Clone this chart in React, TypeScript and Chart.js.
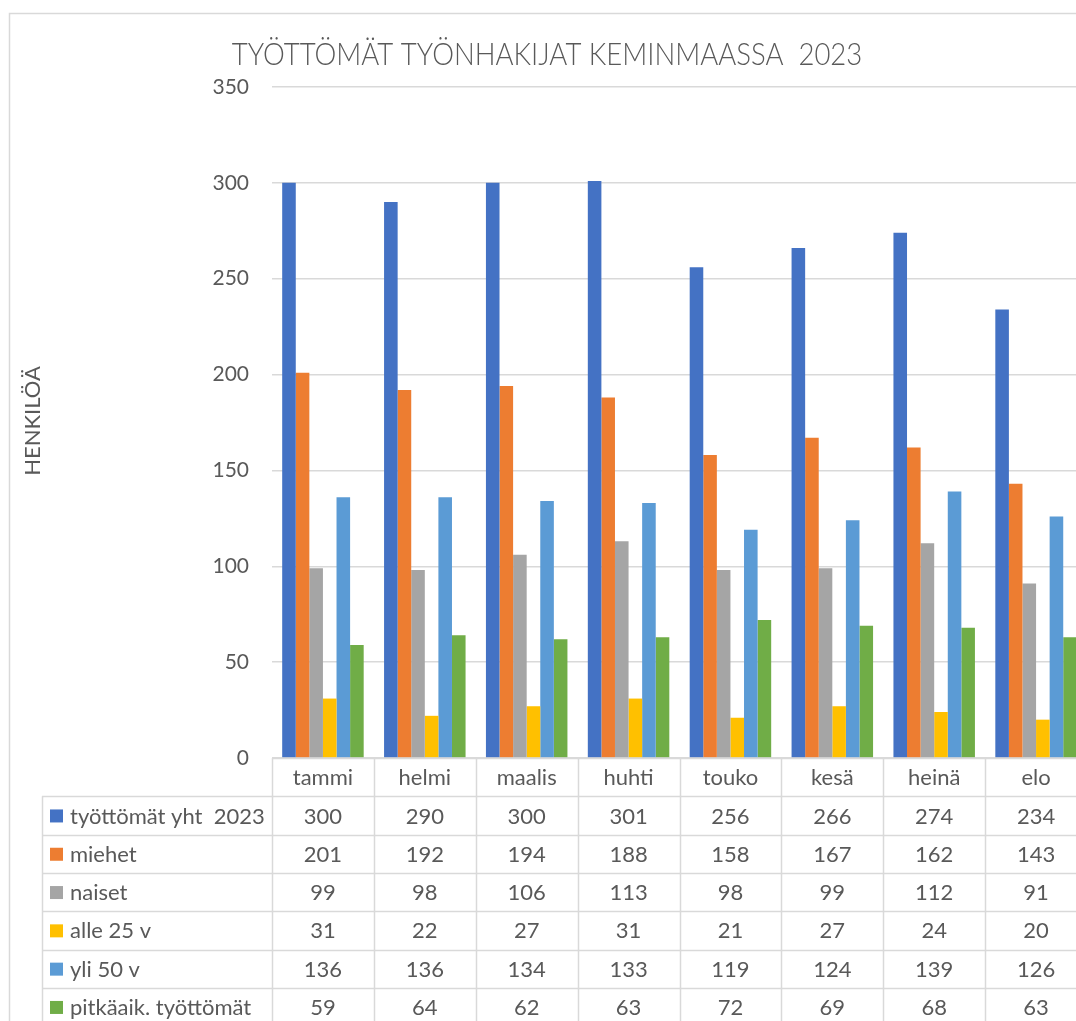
import React, { useEffect, useRef } from "react";
import { Chart, registerables } from "chart.js";

Chart.register(...registerables);

const categories = ["tammi", "helmi", "maalis", "huhti", "touko", "kesä", "heinä", "elo"];
const seriesLabels = [
  "työttömät yht  2023",
  "miehet",
  "naiset",
  "alle 25 v",
  "yli 50 v",
  "pitkäaik. työttömät",
];
const total = [300, 290, 300, 301, 256, 266, 274, 234];
const miehet = [201, 192, 194, 188, 158, 167, 162, 143];
const naiset = [99, 98, 106, 113, 98, 99, 112, 91];
const alle25 = [31, 22, 27, 31, 21, 27, 24, 20];
const yli50 = [136, 136, 134, 133, 119, 124, 139, 126];
const pitka = [59, 64, 62, 63, 72, 69, 68, 63];
const seriesData = [total, miehet, naiset, alle25, yli50, pitka];
const colors = ["#4472C4", "#ED7D31", "#A5A5A5", "#FFC000", "#5B9BD5", "#70AD47"];

const yTicks = [0, 50, 100, 150, 200, 250, 300, 350];

const TITLE = "TYÖTTÖMÄT TYÖNHAKIJAT KEMINMAASSA  2023";
const Y_TITLE = "HENKILÖÄ";

const FONT = "Lato, 'Open Sans', sans-serif";
const TEXT = "#595959";
const LINE = "#D9D9D9";

const tablePlugin = {
  id: "dataTable",
  afterDraw(chart: any) {
    const ctx = chart.ctx as CanvasRenderingContext2D;
    const area = chart.chartArea;
    const xs = chart.scales.x;
    const n = categories.length;
    const catW = (area.right - area.left) / n;
    const rowH = 38.3;
    const top = area.bottom;
    const legendLeft = 42;
    const bottom = chart.height;
    ctx.save();
    // outer border
    ctx.strokeStyle = LINE;
    ctx.lineWidth = 1.5;
    ctx.strokeRect(9.5, 13.5, chart.width + 20, chart.height + 20);

    // title
    ctx.fillStyle = TEXT;
    ctx.textAlign = "center";
    ctx.textBaseline = "middle";
    ctx.font = `300 32px ${FONT}`;
    ctx.save();
    ctx.translate(547, 55);
    ctx.scale(0.86, 1);
    ctx.fillText(TITLE, 0, 0);
    ctx.restore();

    // y title
    ctx.save();
    ctx.translate(33, 421);
    ctx.rotate(-Math.PI / 2);
    ctx.font = `400 22px ${FONT}`;
    ctx.fillText(Y_TITLE, 0, 0);
    ctx.restore();

    // table lines
    ctx.strokeStyle = LINE;
    ctx.lineWidth = 1.5;
    ctx.beginPath();
    for (let i = 0; i <= n; i++) {
      const x = Math.round(area.left + i * catW) + 0.5;
      ctx.moveTo(x, top);
      ctx.lineTo(x, bottom);
    }
    ctx.moveTo(legendLeft + 0.5, top + rowH);
    ctx.lineTo(legendLeft + 0.5, bottom);
    ctx.moveTo(area.left, top + 0.5);
    ctx.lineTo(area.right + 50, top + 0.5);
    for (let r = 1; r <= 7; r++) {
      const y = Math.round(top + r * rowH) + 0.5;
      ctx.moveTo(legendLeft, y);
      ctx.lineTo(area.right + 50, y);
    }
    ctx.stroke();

    // header labels
    ctx.fillStyle = TEXT;
    ctx.font = `400 22px ${FONT}`;
    ctx.textAlign = "center";
    ctx.textBaseline = "middle";
    categories.forEach((c, i) => {
      ctx.fillText(c, xs.getPixelForValue(i), top + rowH / 2 + 1);
    });

    // rows
    seriesData.forEach((vals, r) => {
      const yc = top + rowH * (r + 1) + rowH / 2 + 1;
      ctx.fillStyle = colors[r];
      ctx.fillRect(50, yc - 7, 13, 13);
      ctx.fillStyle = TEXT;
      ctx.textAlign = "left";
      ctx.fillText(seriesLabels[r], 70, yc);
      ctx.textAlign = "center";
      vals.forEach((v, i) => {
        ctx.fillText(String(v), xs.getPixelForValue(i), yc);
      });
    });
    ctx.restore();
  },
};

export default function App() {
  const ref = useRef<HTMLCanvasElement>(null);
  useEffect(() => {
    if (!ref.current) return;
    const chart = new Chart(ref.current, {
      type: "bar",
      data: {
        labels: categories,
        datasets: seriesData.map((d, i) => ({
          label: seriesLabels[i],
          data: d,
          backgroundColor: colors[i],
          borderWidth: 0,
          categoryPercentage: 0.8,
          barPercentage: 1.0,
        })),
      },
      options: {
        responsive: false,
        animation: false,
        layout: { padding: { top: 87, right: 13, bottom: 282, left: 0 } },
        plugins: {
          legend: { display: false },
          title: { display: false },
          tooltip: { enabled: false },
        },
        scales: {
          x: { display: false },
          y: {
            min: 0,
            max: 350,
            afterBuildTicks: (s: any) => {
              s.ticks = yTicks.map((v) => ({ value: v }));
            },
            afterFit: (s: any) => {
              s.width = 272;
            },
            border: { display: false },
            grid: { color: LINE, lineWidth: 1.5, drawTicks: false },
            ticks: {
              padding: 23,
              color: TEXT,
              font: { family: FONT, size: 21 },
            },
          },
        },
      },
      plugins: [tablePlugin],
    });
    return () => chart.destroy();
  }, []);
  return (
    <div
      style={{
        position: "fixed",
        left: 0,
        top: 0,
        width: 1076,
        height: 1021,
        overflow: "hidden",
        background: "#fff",
      }}
    >
      <canvas ref={ref} width={1100} height={1040} style={{ display: "block" }} />
    </div>
  );
}
